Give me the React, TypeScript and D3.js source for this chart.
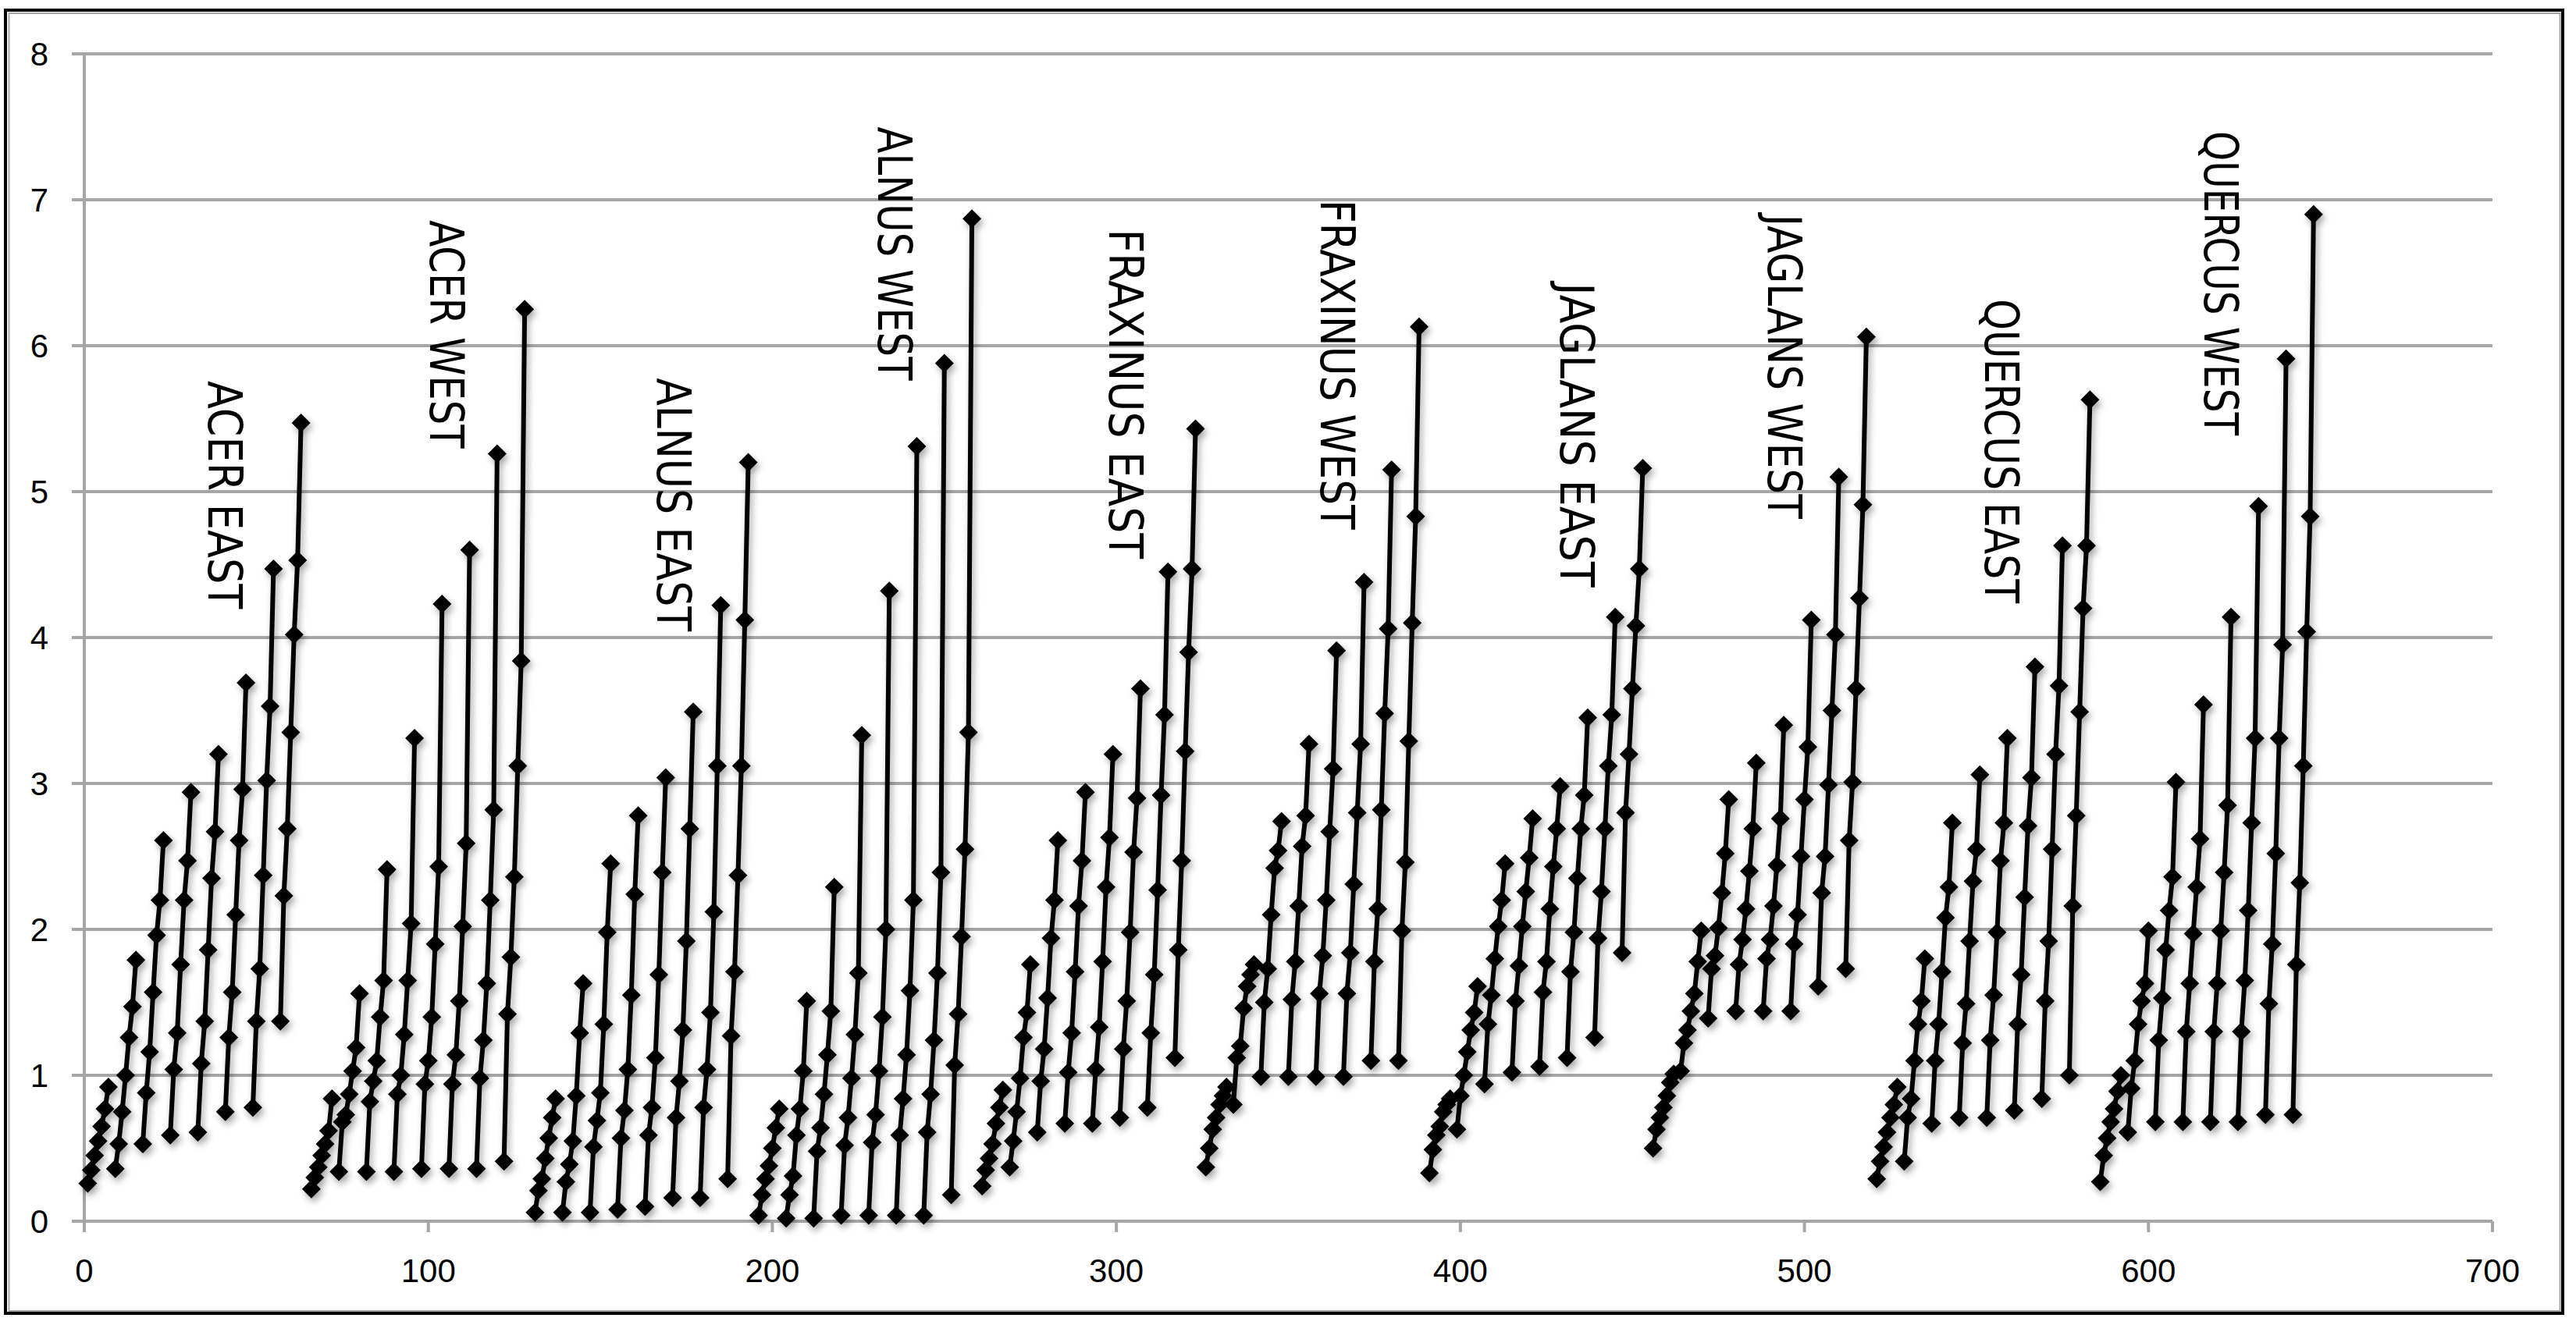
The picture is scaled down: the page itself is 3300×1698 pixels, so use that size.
import React from "react";
import * as d3 from "d3";

// ---- data: each group = 8 rising series ("teeth") of 7 points ----
const groupNames = [
  "ACER EAST", "ACER WEST", "ALNUS EAST", "ALNUS WEST", "FRAXINUS EAST",
  "FRAXINUS WEST", "JAGLANS EAST", "JAGLANS WEST", "QUERCUS EAST", "QUERCUS WEST",
];

const acerEast = [
  [0.26, 0.35, 0.45, 0.55, 0.65, 0.77, 0.92],
  [0.36, 0.53, 0.75, 1.0, 1.26, 1.47, 1.79],
  [0.53, 0.88, 1.16, 1.57, 1.96, 2.2, 2.61],
  [0.59, 1.04, 1.29, 1.76, 2.2, 2.47, 2.94],
  [0.61, 1.08, 1.37, 1.86, 2.35, 2.67, 3.2],
  [0.75, 1.26, 1.57, 2.1, 2.61, 2.96, 3.69],
  [0.78, 1.37, 1.73, 2.37, 3.02, 3.53, 4.47],
  [1.37, 2.23, 2.69, 3.35, 4.02, 4.53, 5.47],
];
const acerWest = [
  [0.22, 0.3, 0.37, 0.45, 0.53, 0.62, 0.84],
  [0.34, 0.68, 0.73, 0.87, 1.03, 1.19, 1.56],
  [0.34, 0.82, 0.96, 1.1, 1.4, 1.65, 2.41],
  [0.34, 0.87, 1.0, 1.28, 1.65, 2.04, 3.31],
  [0.36, 0.94, 1.1, 1.4, 1.9, 2.43, 4.23],
  [0.36, 0.94, 1.14, 1.51, 2.02, 2.59, 4.6],
  [0.36, 0.98, 1.24, 1.63, 2.2, 2.82, 5.26],
  [0.41, 1.42, 1.81, 2.36, 3.12, 3.84, 6.25],
];
const alnusEast = [
  [0.06, 0.21, 0.29, 0.43, 0.57, 0.71, 0.84],
  [0.06, 0.27, 0.39, 0.55, 0.86, 1.29, 1.63],
  [0.06, 0.51, 0.69, 0.88, 1.35, 1.98, 2.45],
  [0.08, 0.57, 0.76, 1.04, 1.55, 2.24, 2.78],
  [0.1, 0.59, 0.78, 1.12, 1.69, 2.39, 3.04],
  [0.16, 0.71, 0.96, 1.31, 1.92, 2.69, 3.49],
  [0.16, 0.78, 1.04, 1.43, 2.12, 3.12, 4.22],
  [0.29, 1.27, 1.71, 2.37, 3.12, 4.12, 5.2],
];
const alnusWest = [
  [0.04, 0.18, 0.29, 0.38, 0.5, 0.64, 0.77],
  [0.02, 0.18, 0.31, 0.59, 0.77, 1.03, 1.51],
  [0.02, 0.48, 0.64, 0.87, 1.14, 1.44, 2.29],
  [0.04, 0.52, 0.71, 0.98, 1.28, 1.7, 3.33],
  [0.04, 0.54, 0.73, 1.03, 1.4, 2.0, 4.32],
  [0.04, 0.59, 0.84, 1.14, 1.58, 2.2, 5.31],
  [0.04, 0.61, 0.87, 1.24, 1.7, 2.39, 5.88],
  [0.18, 1.07, 1.42, 1.95, 2.55, 3.35, 6.87],
];
const fraxinusEast = [
  [0.24, 0.35, 0.43, 0.53, 0.67, 0.78, 0.9],
  [0.37, 0.55, 0.75, 0.98, 1.26, 1.43, 1.76],
  [0.61, 0.96, 1.18, 1.53, 1.94, 2.2, 2.61],
  [0.67, 1.02, 1.29, 1.71, 2.16, 2.47, 2.94],
  [0.67, 1.04, 1.33, 1.78, 2.29, 2.63, 3.2],
  [0.71, 1.18, 1.51, 1.98, 2.53, 2.9, 3.65],
  [0.78, 1.29, 1.69, 2.27, 2.92, 3.47, 4.45],
  [1.12, 1.86, 2.47, 3.22, 3.9, 4.47, 5.43],
];
const fraxinusWest = [
  [0.37, 0.5, 0.63, 0.71, 0.8, 0.86, 0.92],
  [0.8, 1.12, 1.2, 1.46, 1.61, 1.69, 1.76],
  [0.99, 1.5, 1.73, 2.1, 2.42, 2.54, 2.74],
  [0.99, 1.52, 1.78, 2.16, 2.57, 2.78, 3.27],
  [0.99, 1.56, 1.82, 2.2, 2.67, 3.1, 3.91],
  [0.99, 1.56, 1.84, 2.31, 2.8, 3.27, 4.38],
  [1.1, 1.78, 2.14, 2.82, 3.48, 4.06, 5.15],
  [1.1, 1.99, 2.46, 3.29, 4.1, 4.83, 6.13],
];
const jaglansEast = [
  [0.33, 0.49, 0.59, 0.65, 0.75, 0.8, 0.84],
  [0.63, 0.86, 1.0, 1.16, 1.31, 1.43, 1.61],
  [0.94, 1.35, 1.55, 1.8, 2.02, 2.2, 2.45],
  [1.02, 1.51, 1.75, 2.02, 2.26, 2.49, 2.76],
  [1.06, 1.57, 1.78, 2.14, 2.43, 2.69, 2.98],
  [1.12, 1.71, 1.98, 2.35, 2.69, 2.92, 3.45],
  [1.26, 1.94, 2.26, 2.69, 3.12, 3.47, 4.14],
  [1.84, 2.8, 3.2, 3.65, 4.08, 4.47, 5.16],
];
const jaglansWest = [
  [0.5, 0.63, 0.71, 0.78, 0.86, 0.95, 1.01],
  [1.03, 1.22, 1.31, 1.44, 1.56, 1.78, 1.99],
  [1.39, 1.73, 1.82, 2.01, 2.25, 2.52, 2.89],
  [1.44, 1.76, 1.93, 2.14, 2.4, 2.69, 3.14],
  [1.44, 1.8, 1.93, 2.16, 2.44, 2.76, 3.4],
  [1.44, 1.9, 2.1, 2.5, 2.89, 3.25, 4.12],
  [1.61, 2.25, 2.5, 2.99, 3.5, 4.02, 5.1],
  [1.73, 2.61, 3.01, 3.65, 4.27, 4.91, 6.06],
];
const quercusEast = [
  [0.29, 0.41, 0.51, 0.61, 0.71, 0.8, 0.92],
  [0.41, 0.71, 0.84, 1.1, 1.35, 1.51, 1.8],
  [0.67, 1.1, 1.35, 1.71, 2.08, 2.29, 2.73],
  [0.71, 1.22, 1.49, 1.92, 2.33, 2.55, 3.06],
  [0.71, 1.24, 1.55, 1.98, 2.47, 2.73, 3.31],
  [0.76, 1.35, 1.69, 2.22, 2.71, 3.04, 3.8],
  [0.84, 1.51, 1.92, 2.55, 3.2, 3.67, 4.63],
  [1.0, 2.16, 2.78, 3.49, 4.2, 4.63, 5.63],
];
const quercusWest = [
  [0.27, 0.45, 0.57, 0.68, 0.77, 0.89, 1.0],
  [0.61, 0.91, 1.1, 1.35, 1.51, 1.63, 1.99],
  [0.68, 1.24, 1.53, 1.86, 2.13, 2.36, 3.01],
  [0.68, 1.3, 1.63, 1.97, 2.29, 2.62, 3.54],
  [0.68, 1.3, 1.63, 1.99, 2.39, 2.85, 4.14],
  [0.68, 1.3, 1.65, 2.13, 2.73, 3.31, 4.9],
  [0.73, 1.49, 1.9, 2.52, 3.31, 3.95, 5.91],
  [0.73, 1.76, 2.32, 3.12, 4.04, 4.83, 6.9],
];

const groups = [
  acerEast, acerWest, alnusEast, alnusWest, fraxinusEast,
  fraxinusWest, jaglansEast, jaglansWest, quercusEast, quercusWest,
];

// label anchor (x in data units, top of text in y units)
const labelX = [36.1, 100.5, 166.5, 230.8, 297.9, 359.4, 429.1, 489.4, 552.5, 616.2];
const labelTop = [5.76, 6.86, 5.78, 7.5, 6.8, 7.0, 6.43, 6.9, 6.32, 7.47];

const xTicks = [0, 100, 200, 300, 400, 500, 600, 700];
const yTicks = [0, 1, 2, 3, 4, 5, 6, 7, 8];

const GROUP_SPAN = 65;
const TOOTH_SPAN = 8;

export default function App() {
  const W = 3300, H = 1698;
  const x = d3.scaleLinear().domain([0, 700]).range([108, 3193]);
  const y = d3.scaleLinear().domain([0, 8]).range([1565, 69]);
  const grid = "#a6a6a6";

  const series: { pts: [number, number][] }[] = [];
  groups.forEach((g, gi) => {
    g.forEach((tooth, ti) => {
      const pts = tooth.map((v, j) => [GROUP_SPAN * gi + TOOTH_SPAN * ti + j + 1, v] as [number, number]);
      series.push({ pts });
    });
  });

  const line = d3.line<[number, number]>().x((d) => x(d[0])).y((d) => y(d[1]));
  const r = 12;
  const diamond = `M0,${-r}L${r},0L0,${r}L${-r},0Z`;

  return (
    <svg
      width={W}
      height={H}
      style={{ position: "absolute", left: 0, top: 0, background: "#fff" }}
      fontFamily="'Liberation Sans', Arial, sans-serif"
    >
      <defs>
        <filter id="sh" x="-50%" y="-50%" width="200%" height="200%">
          <feDropShadow dx="3" dy="5" stdDeviation="4" floodColor="#000" floodOpacity="0.35" />
        </filter>
      </defs>
      <rect x={0} y={0} width={W} height={H} fill="#fff" />
      <rect x={7} y={13} width={3276} height={1670} fill="none" stroke="#000" strokeWidth={4} />
      <rect x={11.5} y={17} width={3268} height={1663} fill="none" stroke={grid} strokeWidth={2} />

      {/* gridlines */}
      {yTicks.map((t) => (
        <line key={"g" + t} x1={92} x2={x(700)} y1={y(t)} y2={y(t)} stroke={grid} strokeWidth={4} />
      ))}
      {/* y axis */}
      <line x1={x(0)} x2={x(0)} y1={y(8)} y2={y(0)} stroke={grid} strokeWidth={4} />
      {/* x ticks */}
      {xTicks.map((t) => (
        <line key={"xt" + t} x1={x(t)} x2={x(t)} y1={y(0)} y2={y(0) + 14} stroke={grid} strokeWidth={4} />
      ))}
      {yTicks.map((t) => (
        <text key={"yl" + t} x={62} y={y(t) + 15} textAnchor="end" fontSize={42} fill="#000">
          {t}
        </text>
      ))}
      {xTicks.map((t) => (
        <text key={"xl" + t} x={x(t)} y={1643} textAnchor="middle" fontSize={42} fill="#000">
          {t}
        </text>
      ))}

      {/* data */}
      <g filter="url(#sh)">
        {series.map((s, i) => (
          <path key={"l" + i} d={line(s.pts) || ""} fill="none" stroke="#000" strokeWidth={6} />
        ))}
        {series.map((s, i) =>
          s.pts.map((p, j) => (
            <path key={"m" + i + "-" + j} d={diamond} transform={`translate(${x(p[0])},${y(p[1])})`} fill="#000" />
          ))
        )}
      </g>

      {/* group labels */}
      {groupNames.map((name, i) => (
        <text
          key={"lab" + i}
          transform={`translate(${x(labelX[i])},${y(labelTop[i])}) rotate(90)`}
          fontSize={60}
          fontFamily="'Liberation Sans Narrow', 'DejaVu Sans Condensed', 'Liberation Sans', sans-serif"
          textLength={name.length * 32.5}
          lengthAdjust="spacingAndGlyphs"
          fill="#000"
        >
          {name}
        </text>
      ))}
    </svg>
  );
}
